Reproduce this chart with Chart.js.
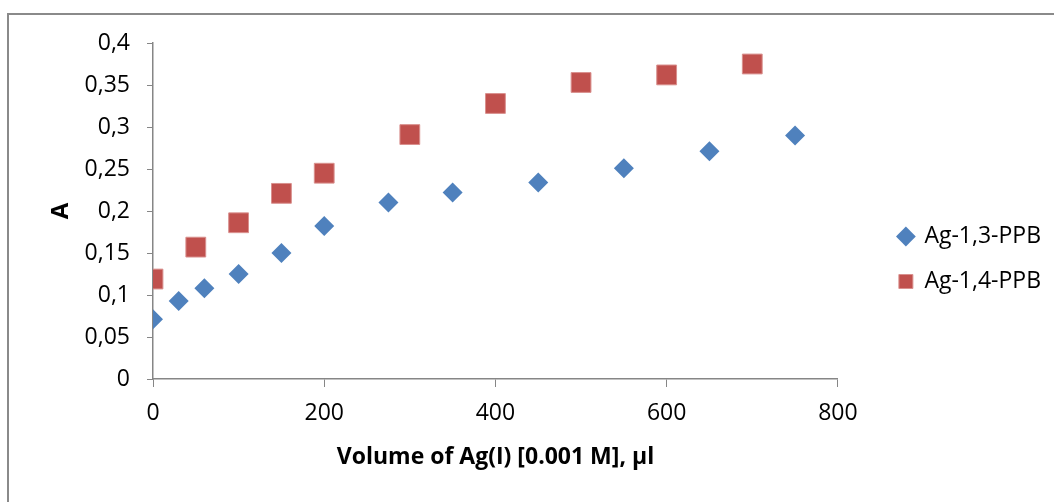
<!DOCTYPE html>
<html>
<head>
<meta charset="utf-8">
<script src="https://cdn.jsdelivr.net/npm/chart.js@4"></script>
<style>
  html, body { margin: 0; padding: 0; background: #fff; }
  #wrap { width: 1054px; height: 502px; position: relative; }
</style>
</head>
<body>
<div id="wrap"><canvas id="chart"></canvas></div>
<script>
const volumes13 = [0, 30, 60, 100, 150, 200, 275, 350, 450, 550, 650, 750];
const absorb13 = [0.071, 0.093, 0.108, 0.125, 0.150, 0.182, 0.210, 0.222, 0.234, 0.251, 0.271, 0.290];

const volumes14 = [0, 50, 100, 150, 200, 300, 400, 500, 600, 700];
const absorb14 = [0.119, 0.157, 0.186, 0.221, 0.245, 0.291, 0.328, 0.353, 0.362, 0.375];

const seriesNames = ["Ag-1,3-PPB", "Ag-1,4-PPB"];
const xTitle = "Volume of Ag(I) [0.001 M], µl";
const yTitle = "A";

const axisGray = "#868686";
const font = "'Open Sans', 'Liberation Sans', sans-serif";

function toPoints(xs, ys) {
  return xs.map((x, i) => ({ x: x, y: ys[i] }));
}

// outer frame of the chart object (only top and left edge are visible)
const framePlugin = {
  id: "frame",
  beforeDraw(chart) {
    const ctx = chart.ctx;
    ctx.save();
    ctx.strokeStyle = "#8a8a8a";
    ctx.lineWidth = 2;
    ctx.beginPath();
    ctx.moveTo(8, chart.height);
    ctx.lineTo(8, 14);
    ctx.lineTo(chart.width, 14);
    ctx.stroke();
    ctx.restore();
  },
};

new Chart(document.getElementById("chart"), {
  type: "scatter",
  data: {
    datasets: [
      {
        label: seriesNames[0],
        data: toPoints(volumes13, absorb13),
        pointStyle: "rectRot",
        pointRadius: 10,
        pointHoverRadius: 10,
        backgroundColor: "#4F81BD",
        borderColor: "#4F81BD",
        borderWidth: 0,
      },
      {
        label: seriesNames[1],
        data: toPoints(volumes14, absorb14),
        pointStyle: "rect",
        pointRadius: 14,
        pointHoverRadius: 14,
        backgroundColor: "#C0504D",
        borderColor: "#D9908E",
        borderWidth: 1,
      },
    ],
  },
  options: {
    responsive: true,
    maintainAspectRatio: false,
    animation: false,
    layout: { padding: { left: 47, top: 43, right: 3, bottom: 27 } },
    plugins: {
      tooltip: { enabled: false },
      legend: {
        position: "right",
        maxWidth: 300,
        labels: {
          usePointStyle: true,
          boxWidth: 14,
          boxHeight: 14,
          padding: 22,
          color: "#000",
          font: { family: font, size: 23 },
        },
      },
    },
    scales: {
      x: {
        type: "linear",
        min: 0,
        max: 800,
        ticks: { stepSize: 200, color: "#000", padding: 13, font: { family: font, size: 23 } },
        grid: { drawOnChartArea: false, drawTicks: true, tickLength: 8, color: axisGray },
        border: { color: axisGray, width: 1.5 },
        title: {
          display: true,
          text: xTitle,
          color: "#000",
          font: { family: font, size: 23, weight: "bold" },
          padding: { top: 4, bottom: 4 },
        },
        afterFit(scale) {
          scale.height = 96;
        },
      },
      y: {
        min: 0,
        max: 0.4,
        ticks: {
          stepSize: 0.05,
          color: "#000",
          padding: 17,
          font: { family: font, size: 23 },
          callback: (v) => String(Math.round(v * 100) / 100).replace(".", ","),
        },
        grid: { drawOnChartArea: false, drawTicks: true, tickLength: 6, color: axisGray },
        border: { color: axisGray, width: 1.5 },
        title: {
          display: true,
          text: yTitle,
          color: "#000",
          font: { family: font, size: 24, weight: "bold" },
          padding: 0,
        },
        afterFit(scale) {
          scale.width = 106;
        },
      },
      // empty axis that only keeps the legend away from the plot
      spacer: {
        type: "linear",
        position: "right",
        display: true,
        ticks: { display: false },
        grid: { display: false },
        border: { display: false },
        afterFit(scale) {
          scale.width = 39;
        },
      },
    },
  },
  plugins: [framePlugin],
});
</script>
</body>
</html>
